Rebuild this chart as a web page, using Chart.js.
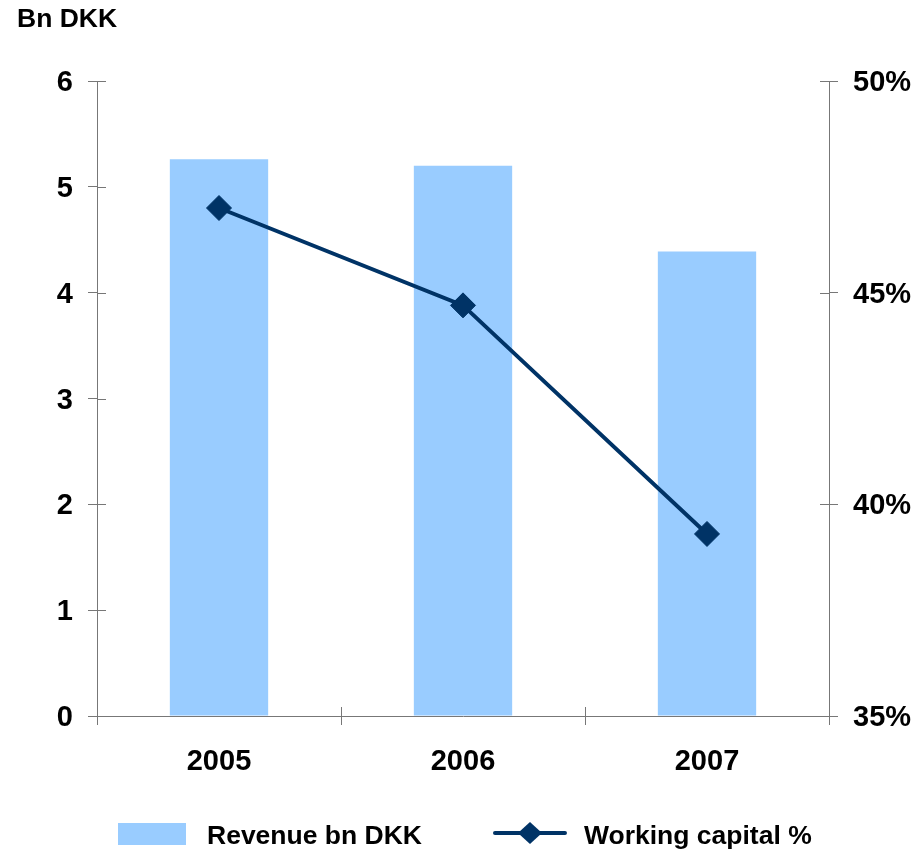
<!DOCTYPE html>
<html>
<head>
<meta charset="utf-8">
<script src="https://cdn.jsdelivr.net/npm/chart.js@4"></script>
<style>
  html, body { margin: 0; padding: 0; background: #ffffff; }
  #wrap { width: 918px; height: 853px; }
</style>
</head>
<body>
<div id="wrap"><canvas id="chart" width="918" height="853"></canvas></div>
<script>
// Revenue (bn DKK, left axis) and working capital share (%, right axis)
const years = ['2005', '2006', '2007'];
const revenueBnDKK = [5.26, 5.20, 4.39];
const workingCapitalPct = [47.0, 44.7, 39.3];
const revenueLabel = 'Revenue bn DKK';
const workingCapitalLabel = 'Working capital %';
const leftAxisTitle = 'Bn DKK';

const FONT = '"Liberation Sans", Arial, Helvetica, sans-serif';
const BAR_COLOR = '#99CCFF';
const LINE_COLOR = '#003366';
const AXIS_COLOR = '#777777';
const TICK_LEN = 9;

// Short tick marks on the inner side of each axis (ticks cross the axis line)
const innerTicks = {
  id: 'innerTicks',
  afterDraw(chart) {
    const ctx = chart.ctx;
    const {x, y, y1} = chart.scales;
    ctx.save();
    ctx.strokeStyle = AXIS_COLOR;
    ctx.lineWidth = 1;
    ctx.beginPath();
    y.ticks.forEach(t => {
      const py = Math.round(y.getPixelForValue(t.value)) + 0.5;
      ctx.moveTo(y.right, py); ctx.lineTo(y.right + TICK_LEN, py);
    });
    y1.ticks.forEach(t => {
      const py = Math.round(y1.getPixelForValue(t.value)) + 0.5;
      ctx.moveTo(y1.left - TICK_LEN, py); ctx.lineTo(y1.left, py);
    });
    const n = x.ticks.length;
    const half = n > 1 ? (x.getPixelForTick(1) - x.getPixelForTick(0)) / 2 : 0;
    for (let i = 0; i <= n; i++) {
      const px = Math.round(i < n ? x.getPixelForTick(i) - half : x.getPixelForTick(n - 1) + half) + 0.5;
      ctx.moveTo(px, x.top - TICK_LEN); ctx.lineTo(px, x.top);
    }
    ctx.stroke();
    ctx.restore();
  }
};

// Unit caption above the left axis
const unitCaption = {
  id: 'unitCaption',
  afterDraw(chart) {
    const ctx = chart.ctx;
    ctx.save();
    ctx.fillStyle = '#000000';
    ctx.font = 'bold 26.5px ' + FONT;
    ctx.textAlign = 'left';
    ctx.textBaseline = 'alphabetic';
    ctx.fillText(leftAxisTitle, 17, 27);
    ctx.restore();
  }
};

// Legend row under the chart: swatch for the bars, line with diamond for the line series
const legendRow = {
  id: 'legendRow',
  afterDraw(chart) {
    const ctx = chart.ctx;
    const [bars, line] = chart.data.datasets;
    const cy = 833;
    ctx.save();
    ctx.font = 'bold 26.5px ' + FONT;
    ctx.textBaseline = 'alphabetic';
    ctx.textAlign = 'left';

    let x = 118;
    ctx.fillStyle = bars.backgroundColor;
    ctx.fillRect(x, 823, 68, 22);
    x += 68 + 21;
    ctx.fillStyle = '#000000';
    ctx.fillText(bars.label, x, 844);
    x += ctx.measureText(bars.label).width + 73;

    const lx0 = x, lx1 = x + 70, mx = (lx0 + lx1) / 2;
    ctx.strokeStyle = line.borderColor;
    ctx.lineWidth = 4;
    ctx.lineCap = 'round';
    ctx.beginPath();
    ctx.moveTo(lx0, cy); ctx.lineTo(lx1, cy);
    ctx.stroke();
    ctx.fillStyle = line.pointBackgroundColor;
    ctx.beginPath();
    ctx.moveTo(mx - 12, cy); ctx.lineTo(mx, cy - 11);
    ctx.lineTo(mx + 12, cy); ctx.lineTo(mx, cy + 11);
    ctx.closePath();
    ctx.fill();
    x = lx1 + 19;
    ctx.fillStyle = '#000000';
    ctx.fillText(line.label, x, 844);
    ctx.restore();
  }
};

const tickFont = { family: FONT, size: 29, weight: 'bold' };

new Chart(document.getElementById('chart'), {
  type: 'bar',
  data: {
    labels: years,
    datasets: [
      {
        type: 'bar',
        label: revenueLabel,
        data: revenueBnDKK,
        yAxisID: 'y',
        backgroundColor: BAR_COLOR,
        borderWidth: 0,
        categoryPercentage: 1.0,
        barPercentage: 0.403,
        order: 2
      },
      {
        type: 'line',
        label: workingCapitalLabel,
        data: workingCapitalPct,
        yAxisID: 'y1',
        borderColor: LINE_COLOR,
        borderWidth: 4,
        pointStyle: 'rectRot',
        pointRadius: 12.5,
        pointHoverRadius: 12.5,
        pointBackgroundColor: LINE_COLOR,
        pointBorderColor: LINE_COLOR,
        pointBorderWidth: 1,
        tension: 0,
        order: 1
      }
    ]
  },
  options: {
    responsive: false,
    animation: false,
    devicePixelRatio: 1,
    layout: { padding: { top: 81, left: 0, right: 0, bottom: 0 } },
    plugins: {
      legend: { display: false },
      title: { display: false },
      tooltip: { enabled: false }
    },
    scales: {
      x: {
        type: 'category',
        offset: true,
        grid: { offset: true, drawOnChartArea: false, drawTicks: true, tickLength: TICK_LEN, color: AXIS_COLOR },
        border: { display: true, color: AXIS_COLOR, width: 1 },
        ticks: { color: '#000000', font: tickFont, padding: 20, maxRotation: 0 },
        afterFit(scale) { scale.height = 137; }
      },
      y: {
        position: 'left',
        min: 0,
        max: 6,
        grid: { drawOnChartArea: false, drawTicks: true, tickLength: TICK_LEN, color: AXIS_COLOR },
        border: { display: true, color: AXIS_COLOR, width: 1 },
        ticks: { stepSize: 1, color: '#000000', font: tickFont, padding: 15, labelOffset: 2 },
        afterFit(scale) { scale.width = 97; }
      },
      y1: {
        position: 'right',
        min: 35,
        max: 50,
        grid: { drawOnChartArea: false, drawTicks: true, tickLength: TICK_LEN, color: AXIS_COLOR },
        border: { display: true, color: AXIS_COLOR, width: 1 },
        ticks: { stepSize: 5, color: '#000000', font: tickFont, padding: 15, labelOffset: 2, callback: v => v + '%' },
        afterFit(scale) { scale.width = 89; }
      }
    }
  },
  plugins: [innerTicks, unitCaption, legendRow]
});
</script>
</body>
</html>
